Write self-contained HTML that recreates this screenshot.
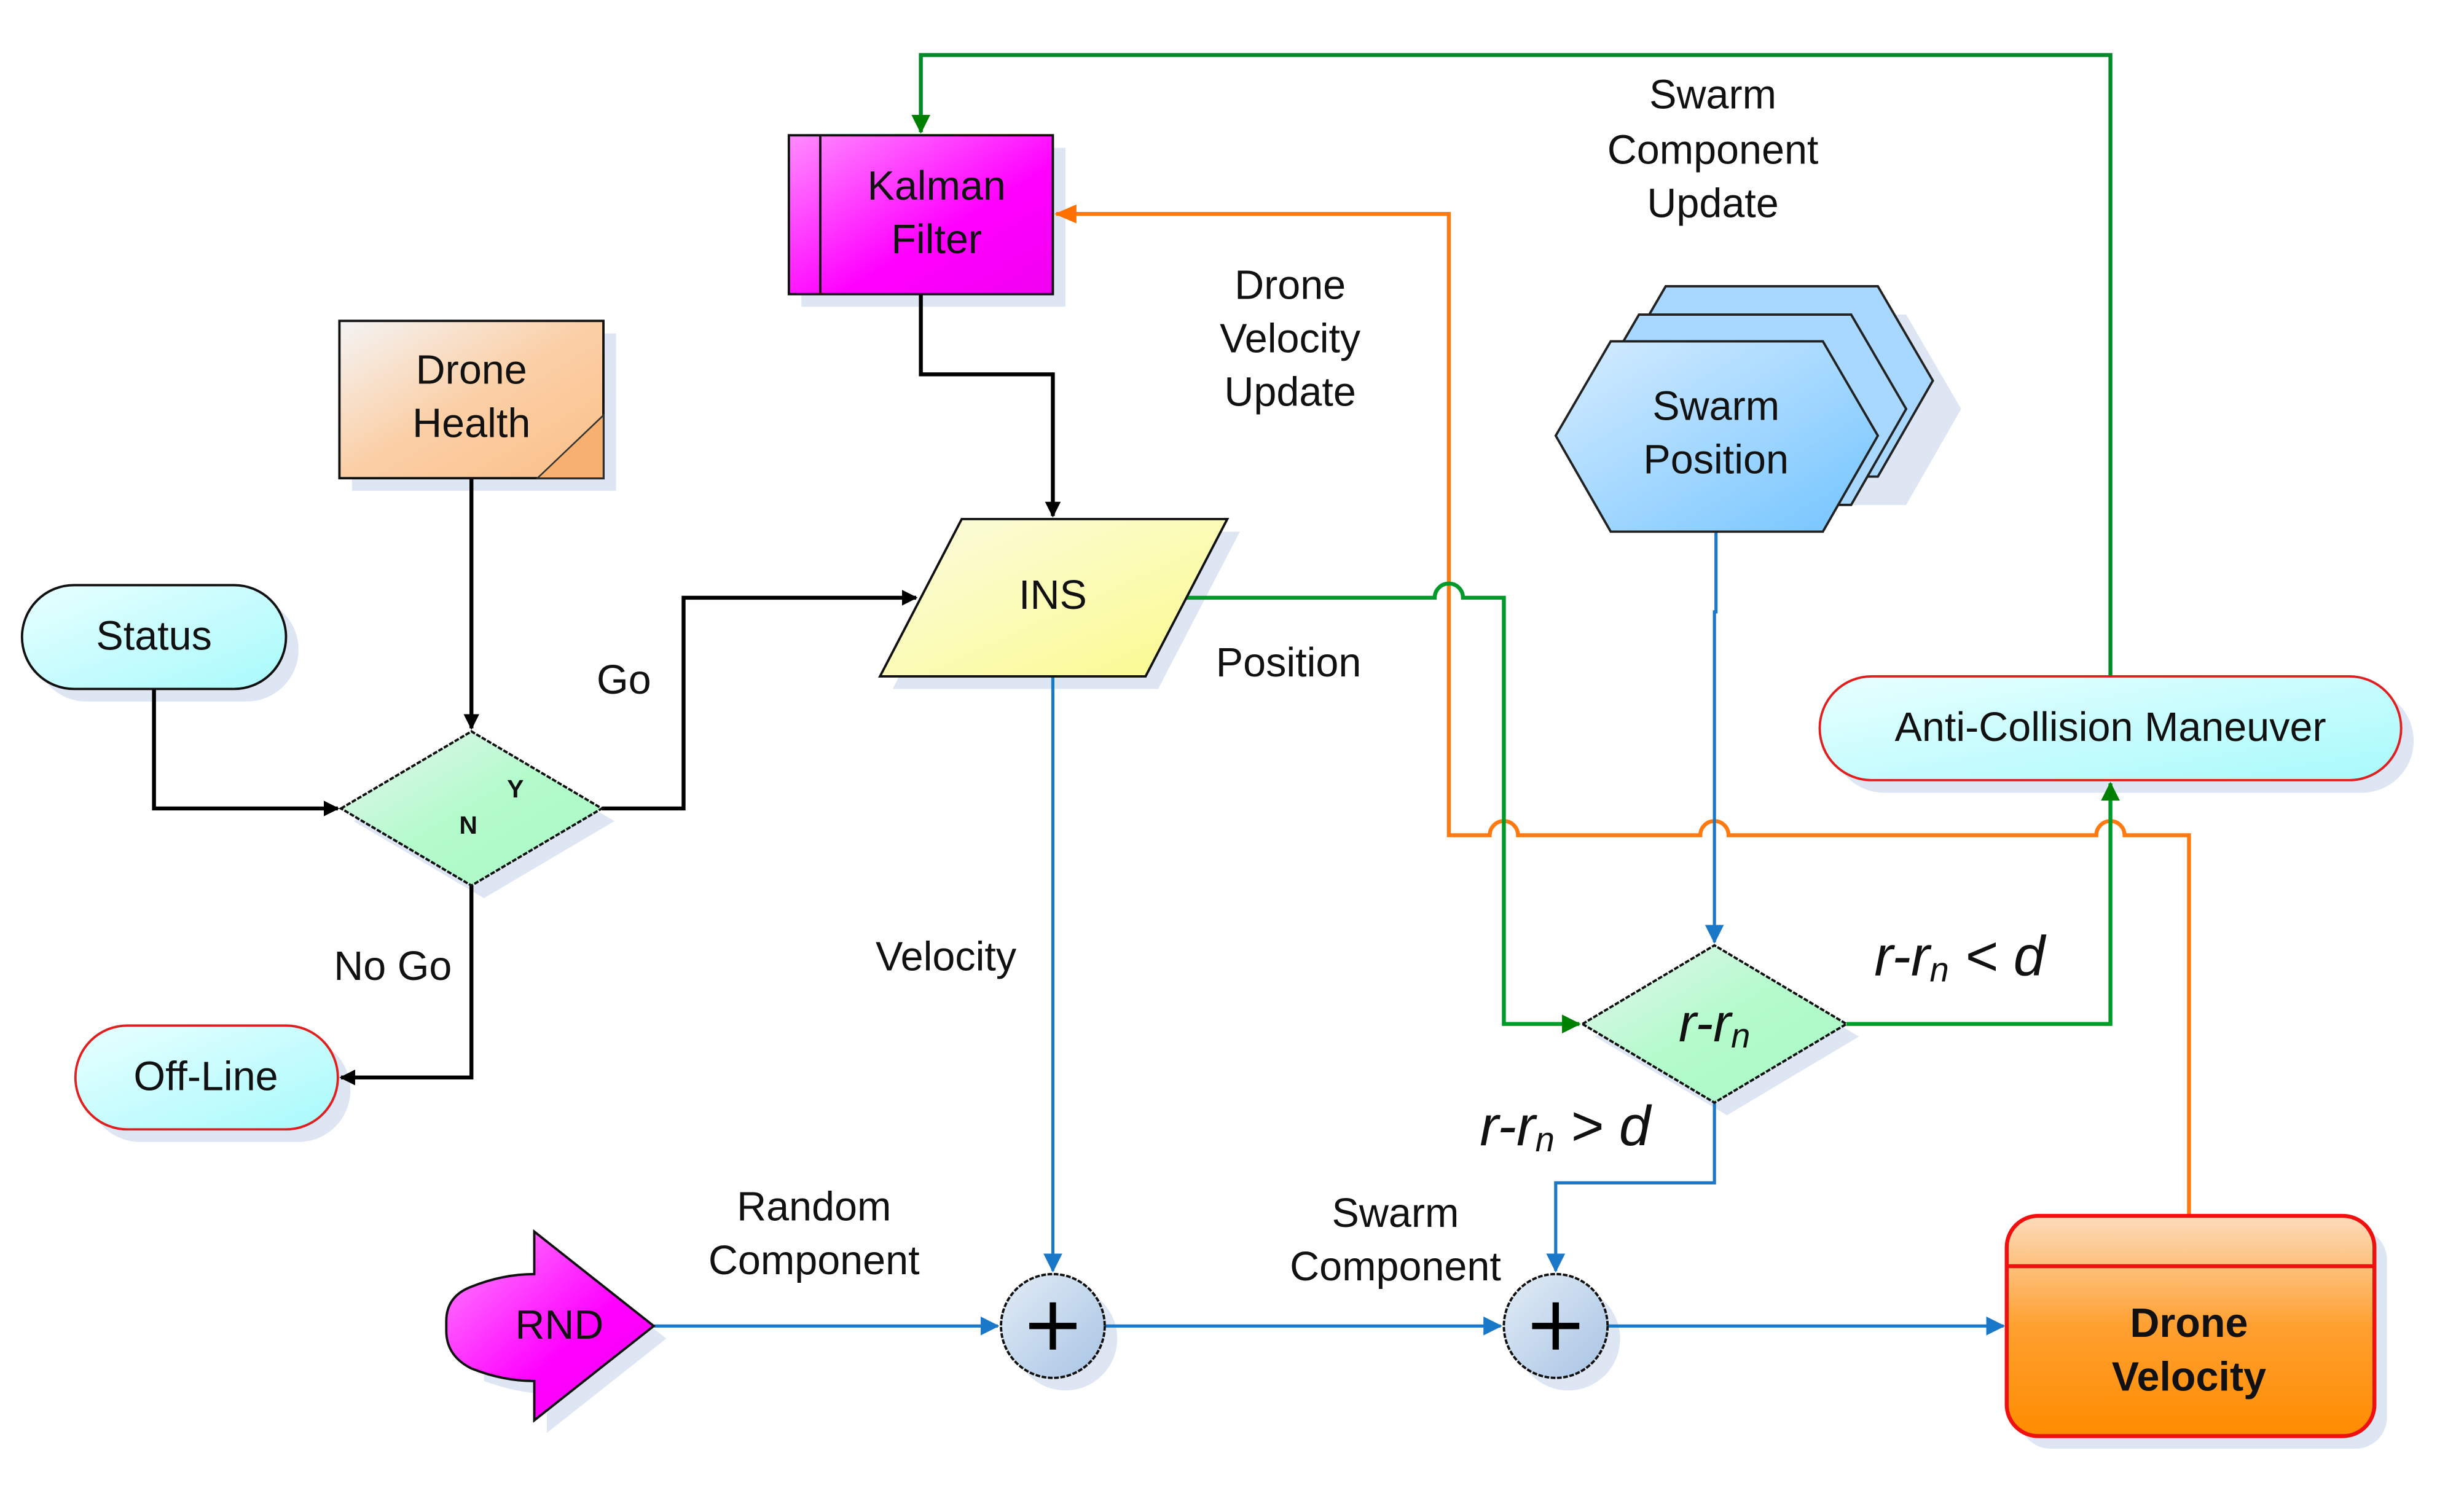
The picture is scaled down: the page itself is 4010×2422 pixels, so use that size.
<!DOCTYPE html>
<html><head><meta charset="utf-8"><style>
html,body{margin:0;padding:0;background:#fff;}
svg{display:block;}
text{font-family:"Liberation Sans",sans-serif;fill:#111;}
</style></head><body>
<svg width="4010" height="2422" viewBox="0 0 1568 946" preserveAspectRatio="none" xmlns="http://www.w3.org/2000/svg">
<defs>
<linearGradient id="mag" x1="0" y1="0" x2="1" y2="1"><stop offset="0" stop-color="#ff8cff"/><stop offset="0.6" stop-color="#ff00ff"/><stop offset="1" stop-color="#f000f0"/></linearGradient>
<linearGradient id="peach" x1="0" y1="0" x2="1" y2="1"><stop offset="0" stop-color="#f4f4f4"/><stop offset="0.5" stop-color="#fbcfa6"/><stop offset="1" stop-color="#fbbf88"/></linearGradient>
<linearGradient id="cyan" x1="0" y1="0" x2="1" y2="1"><stop offset="0" stop-color="#e8ffff"/><stop offset="1" stop-color="#a8fafc"/></linearGradient>
<linearGradient id="grn" x1="0" y1="0" x2="1" y2="1"><stop offset="0" stop-color="#e6f4f0"/><stop offset="0.5" stop-color="#b4fbcc"/><stop offset="1" stop-color="#a8f8c4"/></linearGradient>
<linearGradient id="yel" x1="0" y1="0" x2="1" y2="1"><stop offset="0" stop-color="#fbfbe0"/><stop offset="1" stop-color="#fbfb8c"/></linearGradient>
<linearGradient id="blu" x1="0" y1="0" x2="1" y2="1"><stop offset="0" stop-color="#d6ecff"/><stop offset="1" stop-color="#72c4ff"/></linearGradient>
<linearGradient id="plus" x1="0" y1="0" x2="1" y2="1"><stop offset="0" stop-color="#e2ecf6"/><stop offset="1" stop-color="#a8c4e4"/></linearGradient>
<linearGradient id="org" x1="0" y1="0" x2="0" y2="1"><stop offset="0" stop-color="#fcdcbc"/><stop offset="0.5" stop-color="#ffa030"/><stop offset="1" stop-color="#ff8c00"/></linearGradient>
<marker id="aK" markerWidth="10" markerHeight="10" refX="9" refY="5" orient="auto" markerUnits="userSpaceOnUse"><path d="M0,0 L10,5 L0,10z" fill="#000"/></marker>
<marker id="aG" markerWidth="12" markerHeight="12" refX="11" refY="6" orient="auto" markerUnits="userSpaceOnUse"><path d="M0,0 L12,6 L0,12z" fill="#008000"/></marker>
<marker id="aB" markerWidth="12" markerHeight="12" refX="11" refY="6" orient="auto" markerUnits="userSpaceOnUse"><path d="M0,0 L12,6 L0,12z" fill="#1a78c8"/></marker>
<marker id="aO" markerWidth="14" markerHeight="12" refX="13" refY="6" orient="auto" markerUnits="userSpaceOnUse"><path d="M0,0 L14,6 L0,12z" fill="#ff7000"/></marker>
</defs>

<g fill="#dde6f2">
<rect x="510" y="94" width="168" height="101"/>
<rect x="224" y="212" width="168" height="100"/>
<rect x="22" y="380" width="168" height="66" rx="33"/>
<polygon points="225,522 308,473 391,522 308,571"/>
<rect x="56" y="660" width="167" height="66" rx="33"/>
<polygon points="620,338 789,338 737,438 568,438"/>
<polygon points="1043,260 1078,200 1213,200 1248,260 1213,321 1078,321"/>
<rect x="1166" y="438" width="370" height="66" rx="33"/>
<polygon points="1015,659 1099,609 1183,659 1099,709"/>
<path d="M348,791 L424,851 L348,911 L348,886 Q330,886 308,878 L308,826 Q330,818 348,818z"/>
<circle cx="678" cy="851" r="33"/><circle cx="998" cy="851" r="33"/>
<rect x="1285" y="781" width="234" height="140" rx="20"/>
</g>

<g fill="none" stroke-width="2.5">
<path d="M1343,430 V35 H586 V84" stroke="#008a2a" marker-end="url(#aG)"/>
<path d="M1393,773 V531 H1352 a9,9 0 0 0 -18,0 H1100 a9,9 0 0 0 -18,0 H966 a9,9 0 0 0 -18,0 H922 V136 H672" stroke="#ff7a10" marker-end="url(#aO)"/>
<path d="M586,187 V238 H670 V328" stroke="#000" marker-end="url(#aK)"/>
<path d="M300,304 V463" stroke="#000" marker-end="url(#aK)"/>
<path d="M98,438 V514 H215" stroke="#000" marker-end="url(#aK)"/>
<path d="M383,514 H435 V380 H583" stroke="#000" marker-end="url(#aK)"/>
<path d="M300,563 V685 H217" stroke="#000" marker-end="url(#aK)"/>
<path d="M755,380 H913 a9,9 0 0 1 18,0 H957 V651 H1005" stroke="#009a2a" marker-end="url(#aG)"/>
<path d="M1175,651 H1343 V498" stroke="#009a2a" marker-end="url(#aG)"/>
<path d="M1092,338 V389 H1091 V599" stroke="#1a78c8" stroke-width="2" marker-end="url(#aB)"/>
<path d="M670,430 V808" stroke="#1a78c8" stroke-width="2" marker-end="url(#aB)"/>
<path d="M416,843 H635" stroke="#1a78c8" stroke-width="2" marker-end="url(#aB)"/>
<path d="M703,843 H955" stroke="#1a78c8" stroke-width="2" marker-end="url(#aB)"/>
<path d="M1023,843 H1275" stroke="#1a78c8" stroke-width="2" marker-end="url(#aB)"/>
<path d="M1091,701 V752 H990 V808" stroke="#1a78c8" stroke-width="2" marker-end="url(#aB)"/>
</g>

<rect x="502" y="86" width="168" height="101" fill="url(#mag)" stroke="#111" stroke-width="1.5"/>
<line x1="522" y1="86" x2="522" y2="187" stroke="#111" stroke-width="1.5"/>
<text x="596" y="127" font-size="26" text-anchor="middle">Kalman</text>
<text x="596" y="161" font-size="26" text-anchor="middle">Filter</text>

<rect x="216" y="204" width="168" height="100" fill="url(#peach)" stroke="#111" stroke-width="1.5"/>
<path d="M342,304 L384,264 L384,304z" fill="#f7b070" stroke="#333" stroke-width="1"/>
<text x="300" y="244" font-size="26" text-anchor="middle">Drone</text>
<text x="300" y="278" font-size="26" text-anchor="middle">Health</text>

<rect x="14" y="372" width="168" height="66" rx="33" fill="url(#cyan)" stroke="#111" stroke-width="1.5"/>
<text x="98" y="413" font-size="26" text-anchor="middle">Status</text>

<polygon points="217,514 300,465 383,514 300,563" fill="url(#grn)" stroke="#111" stroke-width="1.5" stroke-dasharray="3,1"/>
<text x="328" y="507" font-size="16" font-weight="bold" text-anchor="middle">Y</text>
<text x="298" y="530" font-size="16" font-weight="bold" text-anchor="middle">N</text>

<rect x="48" y="652" width="167" height="66" rx="33" fill="url(#cyan)" stroke="#e02020" stroke-width="1.5"/>
<text x="131" y="693" font-size="26" text-anchor="middle">Off-Line</text>

<polygon points="612,330 781,330 729,430 560,430" fill="url(#yel)" stroke="#111" stroke-width="1.5"/>
<text x="670" y="387" font-size="26" text-anchor="middle">INS</text>

<g stroke="#222" stroke-width="1.5">
<polygon points="1025,242 1060,182 1195,182 1230,242 1195,303 1060,303" fill="#a8d8ff"/>
<polygon points="1008,260 1043,200 1178,200 1213,260 1178,321 1043,321" fill="#a8d8ff"/>
<polygon points="990,277 1025,217 1160,217 1195,277 1160,338 1025,338" fill="url(#blu)"/>
</g>
<text x="1092" y="267" font-size="26" text-anchor="middle">Swarm</text>
<text x="1092" y="301" font-size="26" text-anchor="middle">Position</text>

<rect x="1158" y="430" width="370" height="66" rx="33" fill="url(#cyan)" stroke="#e02020" stroke-width="1.5"/>
<text x="1343" y="471" font-size="26" text-anchor="middle">Anti-Collision Maneuver</text>

<polygon points="1007,651 1091,601 1175,651 1091,701" fill="url(#grn)" stroke="#111" stroke-width="1.5" stroke-dasharray="3,1"/>
<text x="1091" y="662" font-size="34" font-style="italic" text-anchor="middle">r-r<tspan font-size="22" dy="4">n</tspan></text>

<path d="M340,783 L416,843 L340,903 L340,878 Q320,878 300,870 Q284,862 284,846 L284,840 Q284,824 300,818 Q320,810 340,810z" fill="url(#mag)" stroke="#111" stroke-width="1.5"/>
<text x="356" y="851" font-size="26" text-anchor="middle">RND</text>

<circle cx="670" cy="843" r="33" fill="url(#plus)" stroke="#111" stroke-width="1.5" stroke-dasharray="3,1"/>
<path d="M670,828 V858 M655,843 H685" stroke="#000" stroke-width="4"/>
<circle cx="990" cy="843" r="33" fill="url(#plus)" stroke="#111" stroke-width="1.5" stroke-dasharray="3,1"/>
<path d="M990,828 V858 M975,843 H1005" stroke="#000" stroke-width="4"/>

<rect x="1277" y="773" width="234" height="140" rx="20" fill="url(#org)" stroke="#f01010" stroke-width="2.5"/>
<line x1="1277" y1="805" x2="1511" y2="805" stroke="#f01010" stroke-width="2.5"/>
<text x="1393" y="850" font-size="26" font-weight="bold" text-anchor="middle">Drone</text>
<text x="1393" y="884" font-size="26" font-weight="bold" text-anchor="middle">Velocity</text>

<g font-size="26" text-anchor="middle">
<text x="1090" y="69">Swarm</text><text x="1090" y="104">Component</text><text x="1090" y="138">Update</text>
<text x="821" y="190">Drone</text><text x="821" y="224">Velocity</text><text x="821" y="258">Update</text>
<text x="820" y="430">Position</text>
<text x="397" y="441">Go</text>
<text x="250" y="623">No Go</text>
<text x="602" y="617">Velocity</text>
<text x="518" y="776">Random</text><text x="518" y="810">Component</text>
<text x="888" y="780">Swarm</text><text x="888" y="814">Component</text>
</g>
<text x="1247" y="620" font-size="36" font-style="italic" text-anchor="middle">r-r<tspan font-size="22" dy="4">n</tspan><tspan dy="-4"> &lt; d</tspan></text>
<text x="996" y="728" font-size="36" font-style="italic" text-anchor="middle">r-r<tspan font-size="22" dy="4">n</tspan><tspan dy="-4"> &gt; d</tspan></text>
</svg>
</body></html>
